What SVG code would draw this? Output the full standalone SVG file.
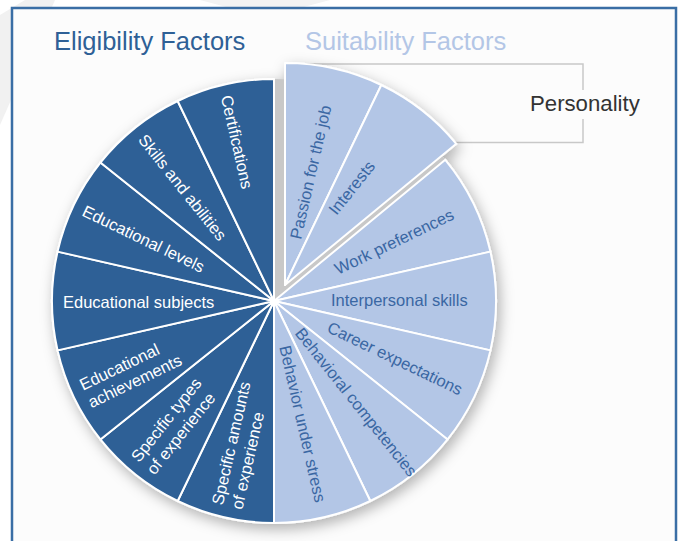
<svg xmlns="http://www.w3.org/2000/svg" width="678" height="541" viewBox="0 0 678 541">
<defs>
<style>
.dk{fill:#2e6096;stroke:#fff;stroke-width:2;stroke-linejoin:round}
.lt{fill:#b3c6e6;stroke:#fff;stroke-width:2;stroke-linejoin:round}
.lw{font-family:"Liberation Sans",Arial,sans-serif;font-size:16.5px;fill:#ffffff}
.lb{font-family:"Liberation Sans",Arial,sans-serif;font-size:16.5px;fill:#3a67a3}
.title{font-family:"Liberation Sans",Arial,sans-serif;font-size:25.5px}
.call{fill:none;stroke:#c8c8c8;stroke-width:1.5}
</style>
<filter id="sh" x="-20%" y="-20%" width="140%" height="140%">
<feDropShadow dx="3" dy="5" stdDeviation="7" flood-color="#000" flood-opacity="0.3"/>
</filter>
</defs>
<rect x="0" y="0" width="678" height="541" fill="#ffffff"/>
<path d="M0,15 L25,0 L55,0 L0,125 Z" fill="#f1f1f1"/>
<path d="M200,0 L330,0 L300,8 L230,8 Z" fill="#f3f3f3"/>
<path d="M12,545 L12,8 L676,8 L676,545" fill="#fcfcfc" stroke="#3a6ea5" stroke-width="2.5"/>

<g id="titles">
<text class="title" x="54" y="50" fill="#2e6096">Eligibility Factors</text>
<text class="title" x="305" y="50" fill="#b3c6e6">Suitability Factors</text>
</g>

<g id="connectors">
<polyline class="call" points="285,64 583,64 583,142.5 455,142.5"/>
</g>

<g id="personality-label">
<rect x="526" y="90" width="118" height="29" fill="#fcfcfc"/>
<text x="530" y="111" font-family="Liberation Sans, Arial, sans-serif" font-size="22.2" fill="#333333">Personality</text>
</g>

<g id="pie" filter="url(#sh)">
<path d="M274,301 L274,79 A222,222 0 0 1 445.3,159.8 Z" fill="#c8c8c8"/>
<g id="specific-amounts"><path class="dk" d="M274,301 L274,523 A222,222 0 0 1 177.68,501.02 Z"/></g>
<g id="specific-types"><path class="dk" d="M274,301 L177.68,501.02 A222,222 0 0 1 100.43,439.41 Z"/></g>
<g id="educational-achievements"><path class="dk" d="M274,301 L100.43,439.41 A222,222 0 0 1 57.57,350.4 Z"/></g>
<g id="educational-subjects"><path class="dk" d="M274,301 L57.57,350.4 A222,222 0 0 1 57.57,251.6 Z"/></g>
<g id="educational-levels"><path class="dk" d="M274,301 L57.57,251.6 A222,222 0 0 1 100.43,162.59 Z"/></g>
<g id="skills"><path class="dk" d="M274,301 L100.43,162.59 A222,222 0 0 1 177.68,100.98 Z"/></g>
<g id="certifications"><path class="dk" d="M274,301 L177.68,100.98 A222,222 0 0 1 274,79 Z"/></g>
<g id="work-preferences"><path class="lt" d="M274,301 L445.3,159.8 A222,222 0 0 1 490.43,251.6 Z"/></g>
<g id="interpersonal-skills"><path class="lt" d="M274,301 L490.43,251.6 A222,222 0 0 1 490.43,350.4 Z"/></g>
<g id="career-expectations"><path class="lt" d="M274,301 L490.43,350.4 A222,222 0 0 1 447.57,439.41 Z"/></g>
<g id="behavioral-competencies"><path class="lt" d="M274,301 L447.57,439.41 A222,222 0 0 1 370.32,501.02 Z"/></g>
<g id="behavior-under-stress"><path class="lt" d="M274,301 L370.32,501.02 A222,222 0 0 1 274,523 Z"/></g>
<g id="personality-wedge" transform="translate(11,-16)">
<path class="lt" d="M274,301 L274,79 A222,222 0 0 1 370.32,100.98 Z"/>
<path class="lt" d="M274,301 L370.32,100.98 A222,222 0 0 1 445.3,159.8 Z"/>
</g>
</g>

<g id="labels">
<text class="lw" transform="translate(220.7,96.7) rotate(77.14)">Certifications</text>
<text class="lw" transform="translate(137.4,140.1) rotate(51.43)">Skills and abilities</text>
<text class="lw" transform="translate(81.1,215.3) rotate(25.71)">Educational levels</text>
<text class="lw" transform="translate(63,307.5)">Educational subjects</text>
<text class="lw" transform="translate(83,390.8) rotate(-25.71)"><tspan x="0" y="0">Educational</tspan><tspan x="0" y="19.5">achievements</tspan></text>
<text class="lw" transform="translate(138.9,463.2) rotate(-51.43)"><tspan x="0" y="0">Specific types</tspan><tspan x="0" y="20">of experience</tspan></text>
<text class="lw" transform="translate(222.7,505.7) rotate(-77.14)"><tspan x="0" y="0">Specific amounts</tspan><tspan x="0" y="20">of experience</tspan></text>
<text class="lb" transform="translate(301,240) rotate(-77.14)">Passion for the job</text>
<text class="lb" transform="translate(336.5,216) rotate(-51.43)">Interests</text>
<text class="lb" transform="translate(338.1,275.1) rotate(-25.71)">Work preferences</text>
<text class="lb" transform="translate(331,306)">Interpersonal skills</text>
<text class="lb" transform="translate(325.9,331.5) rotate(25.71)">Career expectations</text>
<text class="lb" transform="translate(294.2,333.5) rotate(51.43)">Behavioral competencies</text>
<text class="lb" transform="translate(279.3,346.9) rotate(77.14)">Behavior under stress</text>
</g>
</svg>
